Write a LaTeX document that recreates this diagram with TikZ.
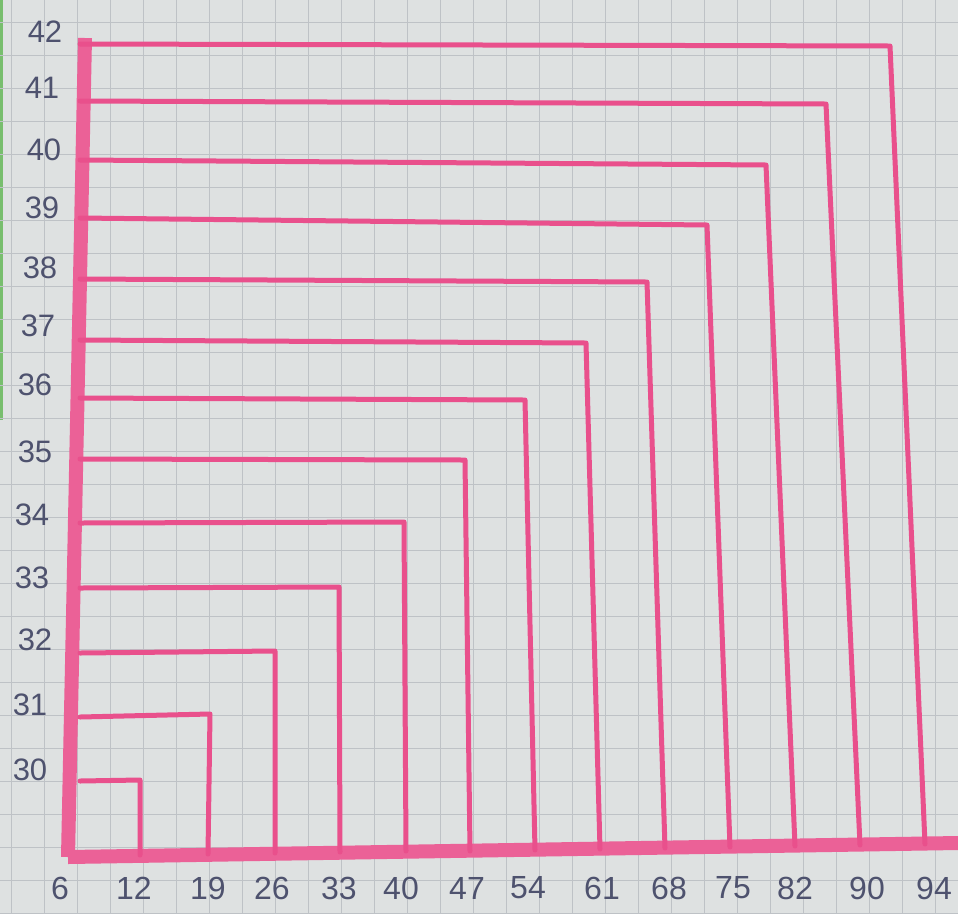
\documentclass[tikz,border=0pt]{standalone}
\usepackage{fontspec}
\setmainfont{Liberation Sans}
\usepackage{tikz}
\usetikzlibrary{positioning}

\definecolor{paper}{RGB}{222,225,225}
\definecolor{gridgray}{RGB}{190,194,198}
\definecolor{marker}{RGB}{233,80,140}
\definecolor{ink}{RGB}{78,82,110}
\definecolor{edgegreen}{RGB}{120,190,110}

\begin{document}
\begin{tikzpicture}[
        x=1pt, y=-1pt,
        gridline/.style={draw=gridgray, line width=0.8pt},
        barline/.style={draw=marker, line width=5pt, line join=round, line cap=round},
        axisline/.style={draw=marker!90, line width=14pt, line cap=butt},
        ylab/.style={text=ink, font=\fontsize{31}{31}\selectfont, inner sep=0pt},
        xlab/.style={text=ink, font=\fontsize{32}{32}\selectfont, inner sep=0pt}
    ]
        \useasboundingbox (0,0) rectangle (958,914);
        \fill[paper] (0,0) rectangle (958,914);
        \fill[edgegreen] (0,0) rectangle (3,420);

        % squared paper
        \foreach \gx in {11,44,...,958} {
            \draw[gridline] (\gx,0) -- (\gx,914);
        }
        \foreach \gy in {22,55,...,914} {
            \draw[gridline] (0,\gy) -- (958,\gy);
        }

        % axes
        \coordinate (top) at (85,38);
        \coordinate (origin) at (68,857);
        \coordinate (far) at (958,843);
        \draw[axisline] (top) -- (origin);
        \draw[axisline] (origin) -- (far);

        % one corner line per pair
        \foreach \yv/\ly/\cx/\cy/\bx/\by in {
            42/44/890/46/925/844,
            41/101/826/104/860/845,
            40/160/766/165/795/846,
            39/218/707/225/730/847,
            38/279/647/282/665/848,
            37/340/586/343/600/849,
            36/398/525/400/535/850,
            35/459/465/460/470/851,
            34/523/404/522/406/851,
            33/588/339/587/340/852,
            32/653/275/651/275/853,
            31/717/210/714/208/854,
            30/781/140/780/140/855} {
            \coordinate (l\yv) at (80,\ly);
            \coordinate (c\yv) at (\cx,\cy);
            \coordinate (b\yv) at (\bx,\by);
            \draw[barline] (l\yv) -- (c\yv) -- (b\yv);
        }

        % labels on the left
        \foreach \yv/\tx/\ty in {42/45/32, 41/42/88, 40/44/150, 39/42/208, 38/40/268,
            37/38/326, 36/35/385, 35/35/452, 34/32/515, 33/32/578, 32/35/640,
            31/30/705, 30/30/770} {
            \node[ylab] (y\yv) at (\tx,\ty) {\yv};
        }

        % labels along the bottom
        \foreach \xv/\tx in {6/60, 12/134, 19/208, 26/272, 33/339, 40/401, 47/467,
            54/528, 61/602, 68/669, 75/733, 82/795, 90/867, 94/934} {
            \node[xlab] (x\xv) at (\tx,888) {\xv};
        }
    \end{tikzpicture}
\end{document}
